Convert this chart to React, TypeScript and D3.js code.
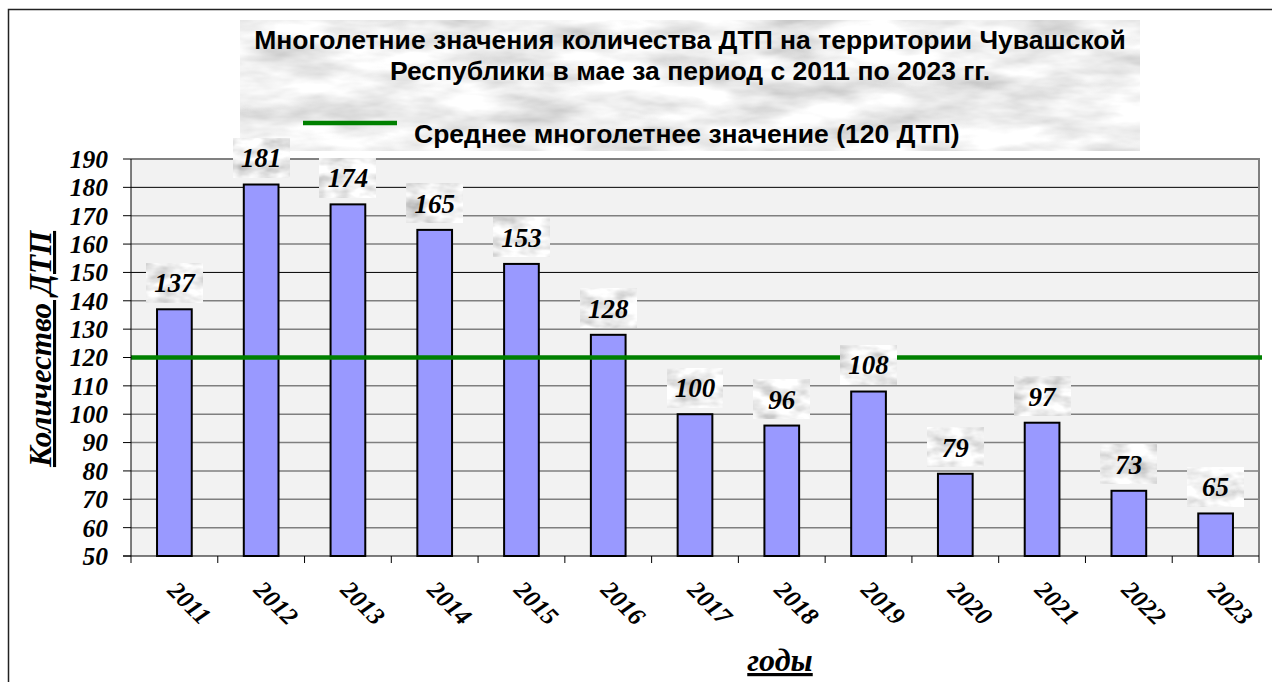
import React from "react";
import * as d3 from "d3";

const years = ["2011","2012","2013","2014","2015","2016","2017","2018","2019","2020","2021","2022","2023"];
const counts = [137,181,174,165,153,128,100,96,108,79,97,73,65];
const average = 120;
const yTicks = [50,60,70,80,90,100,110,120,130,140,150,160,170,180,190];
const titleLines = [
  "Многолетние значения количества ДТП на территории Чувашской",
  "Республики в мае за период с 2011 по 2023 гг.",
];
const legendLabel = "Среднее многолетнее значение (120 ДТП)";
const yTitle = "Количество ДТП";
const xTitle = "годы";

const W = 1272, H = 682;
const plot = { left: 131, right: 1259, top: 159, bottom: 556 };
const serif = "'Liberation Serif', 'Times New Roman', serif";
const sans = "'Liberation Sans', Arial, sans-serif";

export default function App() {
  const x = d3.scaleBand<string>().domain(years).range([plot.left, plot.right]).paddingInner(0.6).paddingOuter(0.3);
  const y = d3.scaleLinear().domain([50, 190]).range([plot.bottom, plot.top]);
  const step = x.step();
  const bw = x.bandwidth();
  const boundaries = d3.range(years.length + 1).map(i => plot.left + i * step);

  return (
    <svg width={W} height={H} style={{ position: "absolute", left: 0, top: 0, background: "#fff" }}>
      <defs>
        <filter id="marble" x="0" y="0" width="1" height="1" filterUnits="objectBoundingBox">
          <feTurbulence type="fractalNoise" baseFrequency="0.012 0.04" numOctaves="4" seed="7" result="n" />
          <feColorMatrix in="n" type="matrix" values="0.8 0 0 0 0.46  0.8 0 0 0 0.46  0.8 0 0 0 0.46  0 0 0 0 1" />
        </filter>
        <filter id="marble2" x="0" y="0" width="1" height="1" filterUnits="objectBoundingBox">
          <feTurbulence type="fractalNoise" baseFrequency="0.04 0.08" numOctaves="3" seed="3" result="n" />
          <feColorMatrix in="n" type="matrix" values="0.9 0 0 0 0.4  0.9 0 0 0 0.4  0.9 0 0 0 0.4  0 0 0 0 1" />
        </filter>
      </defs>
      {/* outer border */}
      <path d={`M8.5,${H} V9.5 H${W}`} fill="none" stroke="#222" strokeWidth={1.5} />

      {/* title box */}
      <rect x={240} y={20} width={900} height={131} fill="#ddd" filter="url(#marble)" />
      {titleLines.map((t, i) => (
        <text key={i} x={690} y={49 + i * 31} textAnchor="middle" fontFamily={sans} fontWeight="bold" fontSize={26.5} fill="#000">{t}</text>
      ))}
      <line x1={303} x2={397} y1={123} y2={123} stroke="#008000" strokeWidth={4.5} />
      <text x={414} y={143} fontFamily={sans} fontWeight="bold" fontSize={26.5} fill="#000">{legendLabel}</text>

      {/* plot background */}
      <rect x={plot.left} y={plot.top} width={plot.right - plot.left} height={plot.bottom - plot.top} fill="#f2f2f2" />
      {yTicks.slice(1).map(v => (
        <line key={v} x1={plot.left} x2={plot.right} y1={y(v)} y2={y(v)}
          stroke={v === 180 || v === 150 ? "#000" : "#7f7f7f"} strokeWidth={v === 180 || v === 150 ? 1 : 1.5} />
      ))}
      {/* plot border top/right */}
      <path d={`M${plot.left},${plot.top} H${plot.right} V${plot.bottom}`} fill="none" stroke="#808080" strokeWidth={2} />

      {/* bars */}
      {years.map((yr, i) => (
        <rect key={yr} x={x(yr)} y={y(counts[i])} width={bw} height={plot.bottom - y(counts[i])}
          fill="#9999ff" stroke="#000" strokeWidth={2} />
      ))}

      {/* average line */}
      <line x1={plot.left} x2={plot.right + 3} y1={y(average)} y2={y(average)} stroke="#008000" strokeWidth={4.5} />

      {/* axes */}
      <line x1={plot.left} x2={plot.left} y1={plot.top} y2={plot.bottom} stroke="#000" strokeWidth={1} />
      <line x1={plot.left - 8} x2={plot.right} y1={plot.bottom} y2={plot.bottom} stroke="#000" strokeWidth={1} />
      {yTicks.map(v => (
        <g key={v}>
          <line x1={plot.left - 8} x2={plot.left} y1={y(v)} y2={y(v)} stroke="#000" strokeWidth={1} />
          <text x={108} y={y(v)} dy="0.35em" textAnchor="end" fontFamily={serif} fontStyle="italic" fontWeight="bold" fontSize={25.5} fill="#000">{v}</text>
        </g>
      ))}
      {boundaries.map((bx, i) => (
        <line key={i} x1={bx} x2={bx} y1={plot.bottom} y2={plot.bottom + 7} stroke="#000" strokeWidth={1} />
      ))}
      {years.map(yr => {
        const cx = (x(yr) as number) + bw / 2 + 15;
        const cy = 603;
        return (
          <text key={yr} x={cx} y={cy} dominantBaseline="central" textAnchor="middle" transform={`rotate(45 ${cx} ${cy})`}
            fontFamily={serif} fontStyle="italic" fontWeight="bold" fontSize={25} fill="#000">{yr}</text>
        );
      })}

      {/* data labels */}
      {years.map((yr, i) => {
        const cx = (x(yr) as number) + bw / 2;
        const bottom = y(counts[i]) - 7;
        return (
          <g key={yr}>
            <rect x={cx - 28} y={bottom - 39} width={56} height={39} fill="#ddd" filter="url(#marble2)" />
            <text x={cx} y={bottom - 19.5} dy="0.35em" textAnchor="middle" fontFamily={serif} fontStyle="italic" fontWeight="bold" fontSize={27} fill="#000">{counts[i]}</text>
          </g>
        );
      })}

      {/* axis titles */}
      <text transform="translate(51,349) rotate(-90)" textAnchor="middle" fontFamily={serif} fontStyle="italic" fontWeight="bold" fontSize={31}
        textDecoration="underline" fill="#000">{yTitle}</text>
      <text x={780} y={671} textAnchor="middle" fontFamily={serif} fontStyle="italic" fontWeight="bold" fontSize={32}
        textDecoration="underline" fill="#000">{xTitle}</text>
    </svg>
  );
}
